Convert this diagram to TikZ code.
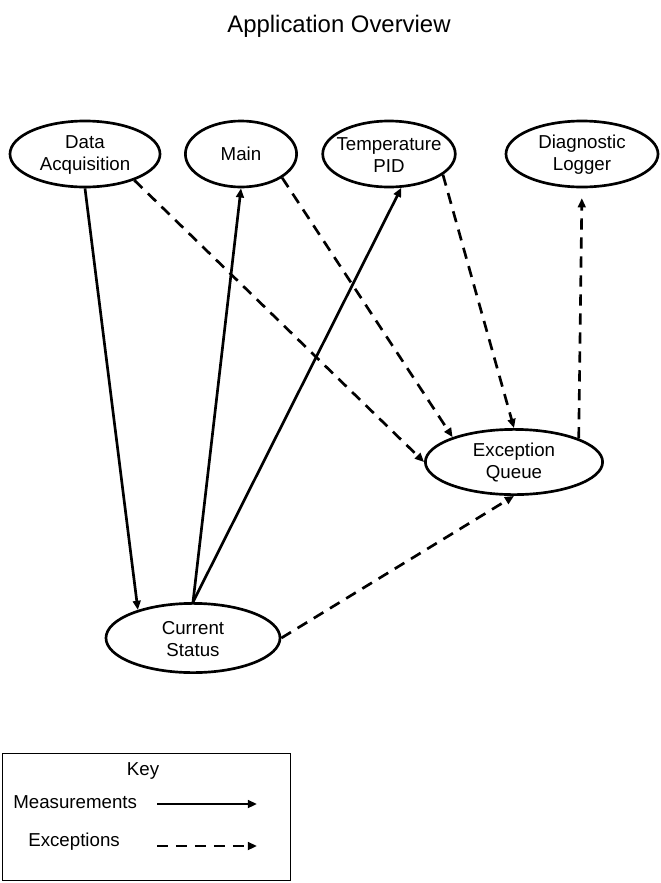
\documentclass[tikz,border=0pt]{standalone}
\usepackage{fontspec}
\setmainfont{Liberation Sans}
\usetikzlibrary{shapes.geometric,arrows.meta}
\begin{document}
\begin{tikzpicture}[x=0.025cm,y=-0.025cm,
		proc/.style={draw,ellipse,line width=1.9pt,inner sep=0pt,align=center,minimum height=1.65cm,font=\fontsize{13.3}{15.6}\selectfont},
		meas/.style={line width=1.9pt,-{Triangle[length=6.5pt,width=5.5pt]}},
		exc/.style={meas,dash pattern=on 8pt off 5.5pt},
		keytext/.style={font=\fontsize{13.3}{15.6}\selectfont,inner sep=0pt}]
	\useasboundingbox (0,0) rectangle (661,883);
	\node[font=\fontsize{17}{20}\selectfont] (title) at (339,26) {Application Overview};
	% processes
	\node[proc,minimum width=3.75cm] (acq) at (85,154) {\strut Data\\Acquisition};
	\node[proc,minimum width=2.78cm] (main) at (241,154) {Main};
	\node[proc,minimum width=3.18cm,inner xsep=-4pt] (pid) at (389,154) {\strut Temperature\\PID};
	\node[proc,minimum width=3.8cm] (logger) at (582,154) {\strut Diagnostic\\Logger};
	\node[proc,minimum width=4.43cm,minimum height=1.63cm] (queue) at (514,462) {\strut Exception\\Queue};
	\node[proc,minimum width=4.35cm,minimum height=1.73cm] (status) at (193,638) {\strut Current\\Status};
	% measurements
	\draw[meas] (acq.south) -- (status.153);
	\draw[meas] (status.north) -- (main.south);
	\draw[meas] (status.north) -- (pid.-70);
	% exceptions
	\draw[exc] (acq.-28) -- (queue.west);
	\draw[exc] (main.-30) -- (queue.158);
	\draw[exc] (pid.-21) -- (queue.north);
	\draw[exc,shorten >=7pt] (queue.20) -- (logger.south);
	\draw[exc] (status.east) -- (queue.south);
	% key
	\draw[line width=0.7pt] (2,753) rectangle (290,880);
	\node[keytext] (key) at (143,771) {Key};
	\node[keytext,anchor=west] (mlabel) at (13,802) {Measurements};
	\node[keytext,anchor=west] (elabel) at (28,842) {Exceptions};
	\coordinate (m1) at (157,804);
	\coordinate (m2) at (257,804);
	\coordinate (e1) at (157,846);
	\coordinate (e2) at (257,846);
	\draw[meas] (m1) -- (m2);
	\draw[exc] (e1) -- (e2);
\end{tikzpicture}
\end{document}
